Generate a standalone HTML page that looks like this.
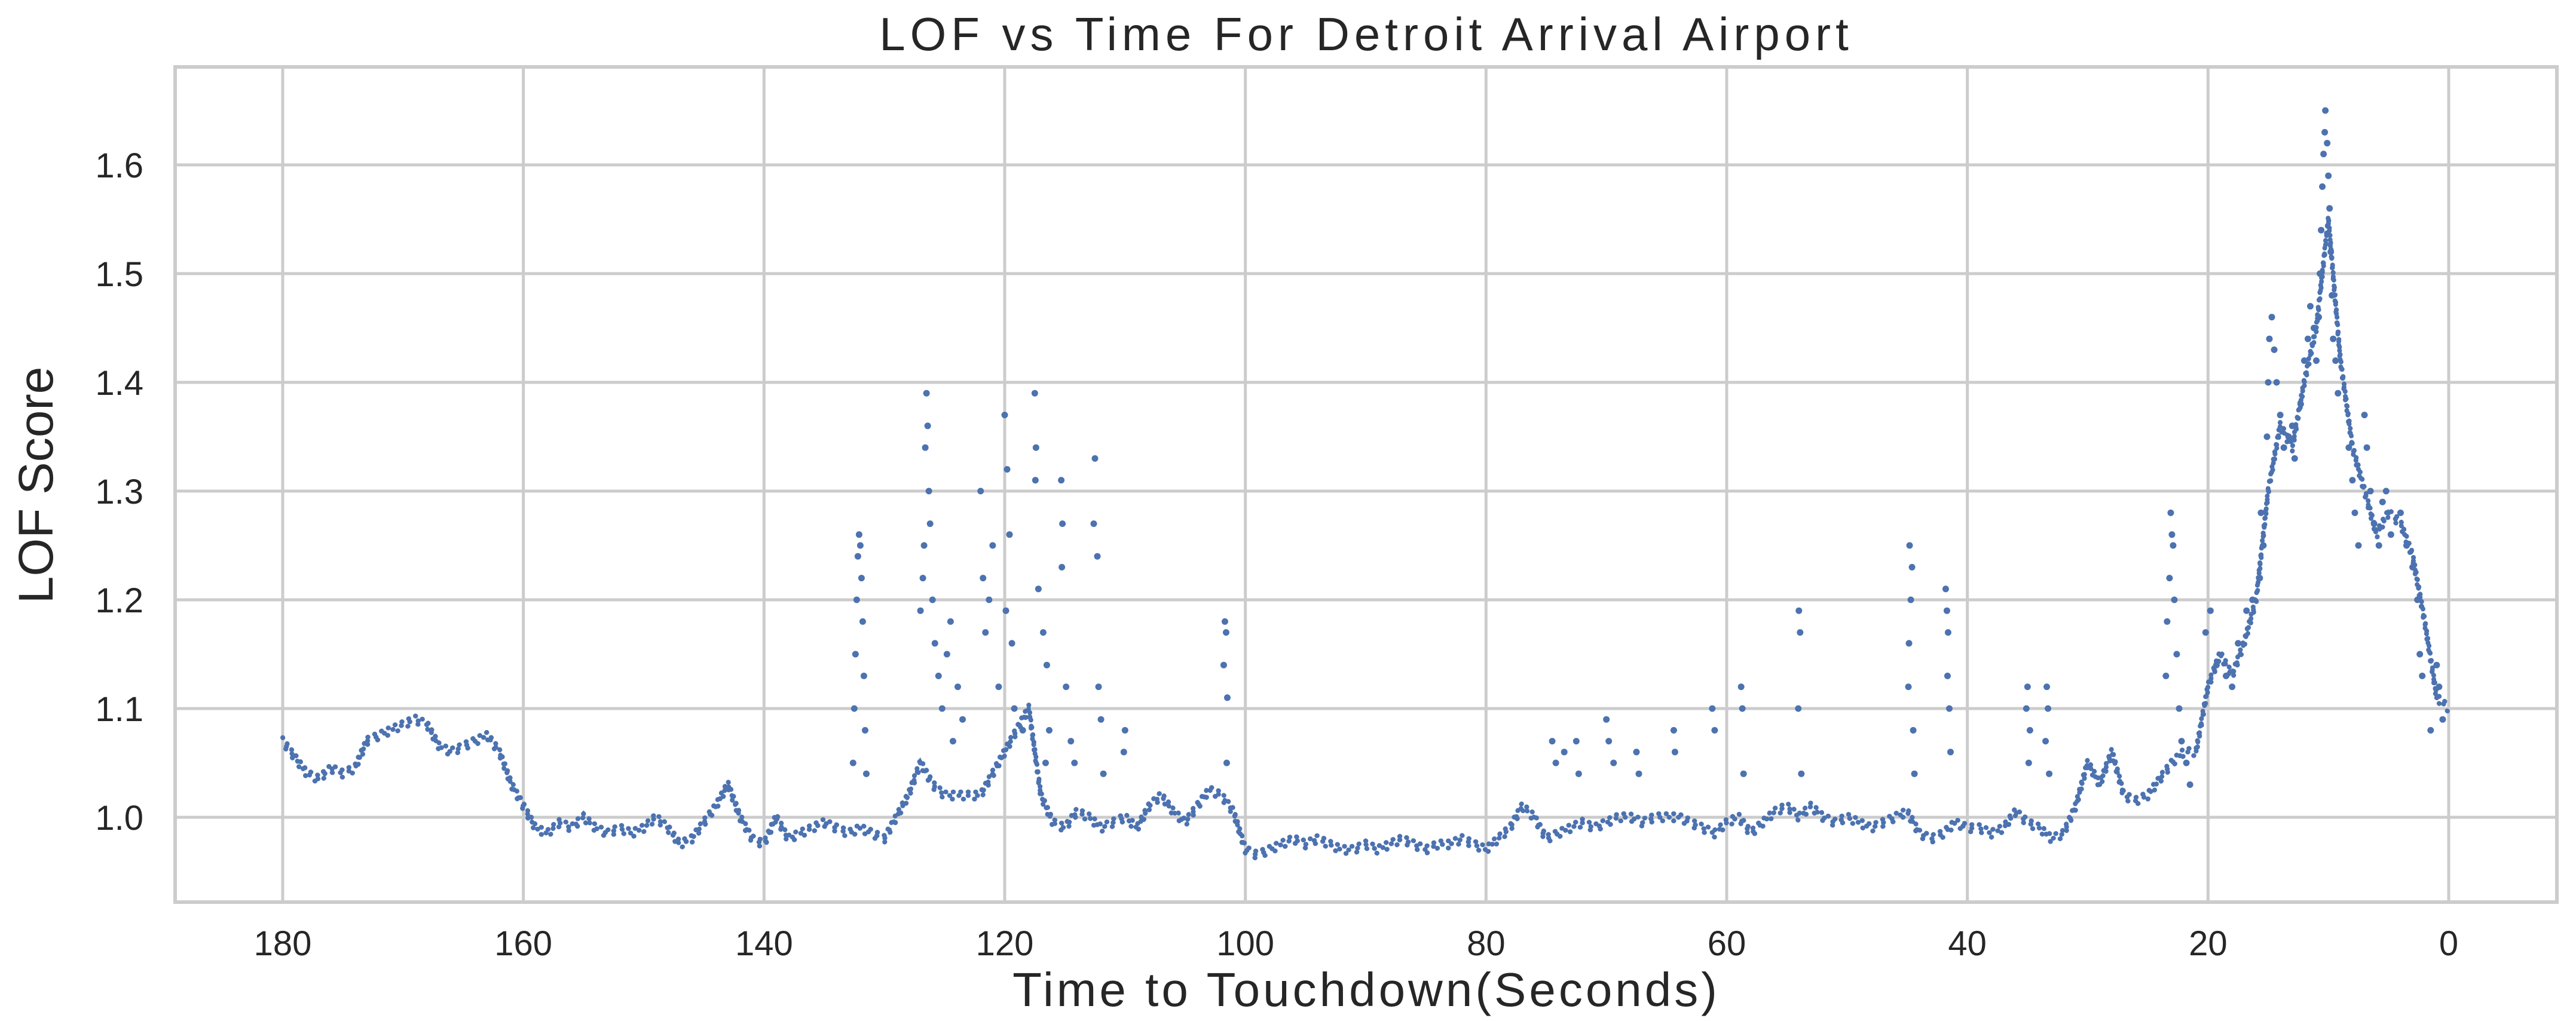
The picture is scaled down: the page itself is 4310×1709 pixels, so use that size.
<!DOCTYPE html>
<html><head><meta charset="utf-8"><style>
html,body{margin:0;padding:0;background:#fff;}
svg{display:block;}
text{font-family:"Liberation Sans",Arial,sans-serif;fill:#262626;}
</style></head><body>
<svg id="chart" width="4310" height="1709" viewBox="0 0 4310 1709" xmlns="http://www.w3.org/2000/svg">
<rect x="0" y="0" width="4310" height="1709" fill="#fff"/>
<rect x="293" y="112" width="3985" height="1398" fill="#fff"/>
<g id="grid"></g>
<g id="marks"></g>
<rect x="293" y="112" width="3985" height="1398" fill="none" stroke="#cccccc" stroke-width="6"/>
<g id="ticks"></g>
<text x="2286" y="84" font-size="78" letter-spacing="8" text-anchor="middle">LOF vs Time For Detroit Arrival Airport</text>
<text x="2286" y="1684" font-size="80" letter-spacing="5" text-anchor="middle">Time to Touchdown(Seconds)</text>
<text x="0" y="0" font-size="82" text-anchor="middle" transform="translate(88,812) rotate(-90)" style="font-family:'Liberation Sans Narrow','Liberation Sans',sans-serif">LOF Score</text>
</svg>
<script>
const xTicks = [180,160,140,120,100,80,60,40,20,0];
const yTicks = [1.0,1.1,1.2,1.3,1.4,1.5,1.6];
const yTickLabels = ["1.0","1.1","1.2","1.3","1.4","1.5","1.6"];
// baseline LOF, one value per second from t=180 down to t=0
const baseValues = [1.07,1.055,1.04,1.035,1.045,1.04,1.045,1.07,1.075,1.08,1.085,1.09,1.085,1.065,1.06,1.065,1.07,1.075,1.06,1.03,
1.01,0.99,0.985,0.995,0.99,1.0,0.99,0.985,0.99,0.985,0.99,1.0,0.99,0.975,0.98,0.995,1.01,1.03,1.0,0.98,
0.975,1.0,0.98,0.985,0.99,0.995,0.99,0.985,0.99,0.985,0.98,1.0,1.02,1.05,1.03,1.02,1.02,1.02,1.02,1.04,
1.06,1.08,1.1,1.02,0.995,0.99,1.005,1.0,0.99,0.995,1.0,0.99,1.01,1.02,1.005,0.995,1.01,1.025,1.02,1.005,
0.97,0.965,0.97,0.975,0.98,0.975,0.98,0.975,0.97,0.97,0.975,0.97,0.975,0.98,0.975,0.97,0.975,0.975,0.98,0.975,
0.97,0.98,0.99,1.01,1.0,0.98,0.985,0.99,0.995,0.99,0.995,1.0,1.0,0.995,1.0,1.0,1.0,0.995,0.99,0.985,
0.995,1.0,0.985,0.995,1.005,1.01,1.0,1.01,1.0,0.995,1.0,0.995,0.99,0.995,1.0,1.005,0.985,0.98,0.985,0.995,
0.99,0.99,0.985,0.99,1.005,0.995,0.99,0.98,0.985,1.01,1.05,1.03,1.06,1.02,1.015,1.02,1.035,1.05,1.06,1.06,
1.12,1.15,1.13,1.16,1.2,1.3,1.36,1.34,1.4,1.45,1.55,1.42,1.34,1.3,1.26,1.28,1.27,1.24,1.18,1.11,1.1];
const outlierTimes = [132.6,132.5,132.4,132.3,132.2,132.1,132.0,131.9,131.8,131.7,131.6,131.5,
126.5,126.4,126.6,126.3,126.2,126.7,126.8,126.0,127.0,125.8,125.5,125.2,124.8,124.5,124.3,123.9,123.5,
122.0,121.8,121.6,121.3,121.0,120.5,120.0,119.8,119.6,119.9,119.4,119.2,118.5,
117.5,117.4,117.45,117.2,116.8,116.5,116.3,116.6,115.3,115.2,115.25,114.9,114.5,114.2,
112.5,112.6,112.3,112.2,112.0,111.8,110.0,110.1,101.7,101.6,101.8,101.5,101.55,
74.5,74.2,73.5,72.5,72.3,70.0,69.8,69.4,67.5,67.3,64.4,64.3,61.2,61.0,58.8,58.7,58.6,
54.0,53.9,54.05,53.8,44.8,44.6,44.7,44.85,44.9,44.5,44.4,41.8,41.7,41.6,41.65,41.5,41.4,
35.0,35.1,34.8,34.9,33.4,33.3,33.5,33.2,
23.1,23.0,22.9,23.2,22.8,23.4,22.6,23.5,22.4,22.2,21.8,21.5,
20.2,19.8,19.3,18.5,18.0,17.5,16.8,16.3,15.7,15.4,15.6,
15.1,15.0,14.9,14.7,14.5,14.3,14.0,13.7,13.3,13.0,12.8,
12.3,12.0,11.7,11.5,11.2,11.0,10.8,10.7,10.6,10.5,10.4,10.3,10.25,10.1,10.0,9.9,9.8,9.7,9.6,9.4,9.2,
8.3,8.0,7.8,7.5,7.0,6.8,6.5,6.2,5.8,5.5,5.2,4.8,4.0,3.5,3.0,2.6,2.4,2.2,1.0,0.8,1.5,0.5];
const outlierValues = [1.05,1.1,1.15,1.2,1.24,1.26,1.25,1.22,1.18,1.13,1.08,1.04,
1.39,1.36,1.34,1.3,1.27,1.25,1.22,1.2,1.19,1.16,1.13,1.1,1.15,1.18,1.07,1.12,1.09,
1.30,1.22,1.17,1.2,1.25,1.12,1.37,1.32,1.26,1.19,1.16,1.1,1.08,
1.39,1.34,1.31,1.21,1.17,1.14,1.08,1.05,1.31,1.27,1.23,1.12,1.07,1.05,
1.33,1.27,1.24,1.12,1.09,1.04,1.08,1.06,1.18,1.17,1.14,1.11,1.05,
1.07,1.05,1.06,1.07,1.04,1.09,1.07,1.05,1.06,1.04,1.08,1.06,1.1,1.08,1.12,1.1,1.04,
1.19,1.17,1.1,1.04,1.25,1.23,1.2,1.16,1.12,1.08,1.04,1.21,1.19,1.17,1.13,1.1,1.06,
1.12,1.1,1.08,1.05,1.12,1.1,1.07,1.04,
1.28,1.26,1.25,1.22,1.2,1.18,1.15,1.13,1.1,1.07,1.05,1.03,
1.17,1.19,1.14,1.13,1.12,1.16,1.19,1.2,1.22,1.25,1.28,
1.35,1.4,1.44,1.46,1.43,1.4,1.37,1.34,1.35,1.36,1.33,
1.38,1.42,1.44,1.47,1.45,1.42,1.46,1.5,1.54,1.58,1.61,1.63,1.65,1.62,1.59,1.56,1.52,1.48,1.44,1.42,1.39,
1.34,1.31,1.28,1.25,1.37,1.34,1.3,1.27,1.25,1.29,1.3,1.26,1.28,1.25,1.23,1.2,1.15,1.13,1.14,1.12,1.08,1.09];

const NS = "http://www.w3.org/2000/svg";
const X0 = 4097, XS = (4097-473)/180;
const Y0 = 1368, YS = (1368-276)/0.6;
function xScale(t){ return X0 - t*XS; }
function yScale(v){ return Y0 - (v-1.0)*YS; }
const grid = document.getElementById('grid');
const ticks = document.getElementById('ticks');
const marks = document.getElementById('marks');

xTicks.forEach(function(t){
  const l = document.createElementNS(NS,'line');
  l.setAttribute('x1', xScale(t)); l.setAttribute('x2', xScale(t));
  l.setAttribute('y1', 112); l.setAttribute('y2', 1510);
  l.setAttribute('stroke', '#cccccc'); l.setAttribute('stroke-width', '5');
  
  
  grid.appendChild(l);
  const tx = document.createElementNS(NS,'text');
  tx.setAttribute('x', xScale(t)); tx.setAttribute('y', 1599);
  tx.setAttribute('font-size', '58'); tx.setAttribute('text-anchor', 'middle');
  tx.textContent = String(t);
  
  
  ticks.appendChild(tx);
});
yTicks.forEach(function(v, i){
  const l = document.createElementNS(NS,'line');
  l.setAttribute('x1', 293); l.setAttribute('x2', 4278);
  l.setAttribute('y1', yScale(v)); l.setAttribute('y2', yScale(v));
  l.setAttribute('stroke', '#cccccc'); l.setAttribute('stroke-width', '5');
  
  
  grid.appendChild(l);
  const tx = document.createElementNS(NS,'text');
  tx.setAttribute('x', 240); tx.setAttribute('y', yScale(v)+21);
  tx.setAttribute('font-size', '58'); tx.setAttribute('text-anchor', 'end');
  tx.textContent = yTickLabels[i];
  
  
  ticks.appendChild(tx);
});

[-6, 0, 6].forEach(function(off, k){
  let d = '';
  baseValues.forEach(function(v, i){
    const t = 180 - i;
    d += (i === 0 ? 'M' : 'L') + xScale(t).toFixed(1) + ' ' + (yScale(v) + off).toFixed(1) + ' ';
  });
  const p = document.createElementNS(NS,'path');
  p.setAttribute('d', d);
  p.setAttribute('fill', 'none'); p.setAttribute('stroke', '#4c72b0');
  p.setAttribute('stroke-width', '8'); p.setAttribute('stroke-linecap', 'round');
  p.setAttribute('stroke-dasharray', '0.5 ' + (12 + k*3));
  p.setAttribute('stroke-dashoffset', String(k*5));
  
  
  marks.appendChild(p);
});

outlierTimes.forEach(function(t, i){
  const c = document.createElementNS(NS,'circle');
  c.setAttribute('cx', xScale(t)); c.setAttribute('cy', yScale(outlierValues[i]));
  c.setAttribute('r', '5.5'); c.setAttribute('fill', '#4c72b0');
  
  
  marks.appendChild(c);
});
</script>
</body></html>
